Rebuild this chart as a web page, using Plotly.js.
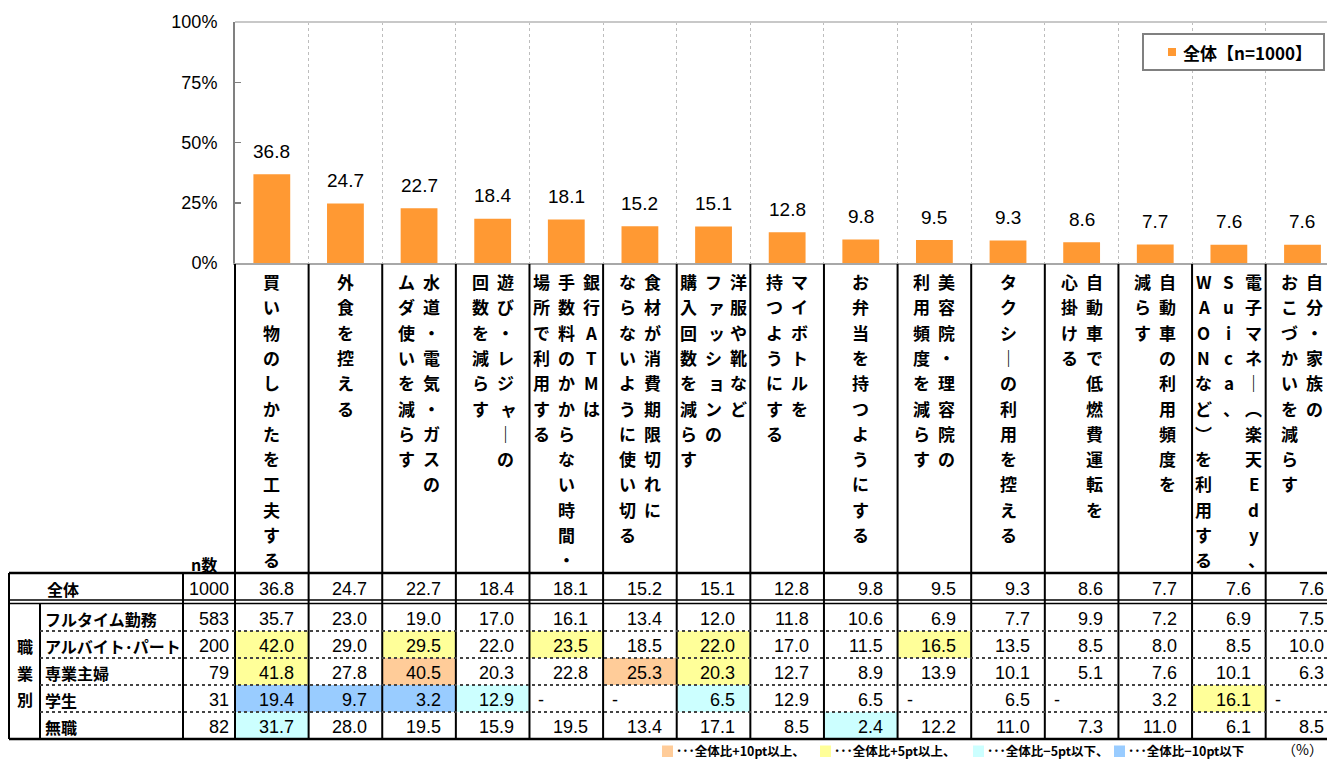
<!DOCTYPE html>
<html><head><meta charset="utf-8">
<script src="https://cdn.plot.ly/plotly-3.0.1.min.js"></script>
<style>body{margin:0;background:#fff}#chart{width:1327px;height:760px}</style>
</head><body><div id="chart"></div>
<script>
// ---------- data ----------
const categoryLines = [
  ["買い物のしかたを工夫する"],
  ["外食を控える"],
  ["水道・電気・ガスの","ムダ使いを減らす"],
  ["遊び・レジャーの","回数を減らす"],
  ["銀行ATMは","手数料のかからない時間・","場所で利用する"],
  ["食材が消費期限切れに","ならないように使い切る"],
  ["洋服や靴など","ファッションの","購入回数を減らす"],
  ["マイボトルを","持つようにする"],
  ["お弁当を持つようにする"],
  ["美容院・理容院の","利用頻度を減らす"],
  ["タクシーの利用を控える"],
  ["自動車で低燃費運転を","心掛ける"],
  ["自動車の利用頻度を","減らす"],
  ["電子マネー（楽天Edy、","Suica、","WAONなど）を利用する"],
  ["自分・家族の","おこづかいを減らす"]
];
const totalValues = [36.8,24.7,22.7,18.4,18.1,15.2,15.1,12.8,9.8,9.5,9.3,8.6,7.7,7.6,7.6];
const totalLabel = "全体";
const totalN = 1000;
const seriesName = "全体【n=1000】";
const groupTitle = "職業別";
const groupNames = ["フルタイム勤務","アルバイト・パート","専業主婦","学生","無職"];
const groupN = [583,200,79,31,82];
const fulltimeValues   = [35.7,23.0,19.0,17.0,16.1,13.4,12.0,11.8,10.6,6.9,7.7,9.9,7.2,6.9,7.5];
const parttimeValues   = [42.0,29.0,29.5,22.0,23.5,18.5,22.0,17.0,11.5,16.5,13.5,8.5,8.0,8.5,10.0];
const housewifeValues  = [41.8,27.8,40.5,20.3,22.8,25.3,20.3,12.7,8.9,13.9,10.1,5.1,7.6,10.1,6.3];
const studentValues    = [19.4,9.7,3.2,12.9,null,null,6.5,12.9,6.5,null,6.5,null,3.2,16.1,null];
const unemployedValues = [31.7,28.0,19.5,15.9,19.5,13.4,17.1,8.5,2.4,12.2,11.0,7.3,11.0,6.1,8.5];
const groupValues = [fulltimeValues,parttimeValues,housewifeValues,studentValues,unemployedValues];
const yTickVals = [0,25,50,75,100];
const yTickText = ["0%","25%","50%","75%","100%"];
const nLabel = "n数";
const unitLabel = "（%）";
const keyLabels = ["･･･全体比+10pt以上、","･･･全体比+5pt以上、","･･･全体比−5pt以下、","･･･全体比−10pt以下"];

// ---------- layout helpers ----------
const W=1327,H=760,L=235,T=22,B=263;
const PW=W-L, PH=B-T, COLW=73.62;
const px = x => (x-L)/PW;
const py = y => (B-y)/PH;
const JP = '"Noto Sans CJK JP","Noto Sans",sans-serif';
const NUM = '"Liberation Sans",Arial,sans-serif';
const C_HI10='#FFCC99', C_HI5='#FFFF99', C_LO5='#CCFFFF', C_LO10='#99CCFF';
const categories = categoryLines.map(l => l.join(""));

function cellColor(v,t){
  if(v==null) return null;
  const d = Math.round((v-t)*10)/10;
  if(d>=10) return C_HI10;
  if(d>=5) return C_HI5;
  if(d<=-10) return C_LO10;
  if(d<=-5) return C_LO5;
  return null;
}

const shapes=[], ann=[];
const rowBounds=[603,631,658,685,712,739];

// cell fills
groupValues.forEach((vals,r)=>{
  vals.forEach((v,i)=>{
    const c=cellColor(v,totalValues[i]);
    if(c) shapes.push({type:'rect',xref:'x',yref:'paper',x0:i-0.5,x1:i+0.5,y0:py(rowBounds[r]),y1:py(rowBounds[r+1]),fillcolor:c,line:{width:0},layer:'below'});
  });
});

// top frame line
shapes.push({type:'line',xref:'paper',yref:'paper',x0:0,x1:1,y0:1,y1:1,line:{color:'#C8C8C8',width:2}});
// column borders
for(let i=0;i<categories.length;i++){
  shapes.push({type:'line',xref:'x',yref:'paper',x0:i+0.5,x1:i+0.5,y0:py(264),y1:py(739),line:{color:'#000',width:2}});
}
shapes.push({type:'line',xref:'paper',yref:'paper',x0:0,x1:0,y0:py(264),y1:py(739),line:{color:'#000',width:2}});
shapes.push({type:'line',xref:'paper',yref:'paper',x0:px(9),x1:px(9),y0:py(573),y1:py(739),line:{color:'#000',width:2}});
shapes.push({type:'line',xref:'paper',yref:'paper',x0:px(40),x1:px(40),y0:py(603),y1:py(739),line:{color:'#000',width:2}});
shapes.push({type:'line',xref:'paper',yref:'paper',x0:px(183),x1:px(183),y0:py(573),y1:py(739),line:{color:'#000',width:2}});
// horizontal table lines
shapes.push({type:'line',xref:'paper',yref:'paper',x0:px(9),x1:1.02,y0:py(573),y1:py(573),line:{color:'#000',width:2.5}});
shapes.push({type:'line',xref:'paper',yref:'paper',x0:px(9),x1:1.02,y0:py(600),y1:py(600),line:{color:'#000',width:1.5}});
shapes.push({type:'line',xref:'paper',yref:'paper',x0:px(9),x1:1.02,y0:py(603.5),y1:py(603.5),line:{color:'#000',width:1.5}});
shapes.push({type:'line',xref:'paper',yref:'paper',x0:px(9),x1:1.02,y0:py(739),y1:py(739),line:{color:'#000',width:2.5}});
[631,658,685,712].forEach(y=>{
  shapes.push({type:'line',xref:'paper',yref:'paper',x0:px(40),x1:1.02,y0:py(y),y1:py(y),line:{color:'#444',width:2,dash:'dot'}});
});

// bar value labels
totalValues.forEach((v,i)=>{
  ann.push({xref:'x',yref:'y',x:i,y:v,yshift:23,text:v.toFixed(1),showarrow:false,xanchor:'center',yanchor:'middle',font:{family:NUM,size:19,color:'#000'}});
});

// vertical category labels
const VMAP={'ー':'｜','（':'︵','）':'︶'};
const SMALL='ぁぃぅぇぉっゃゅょァィゥェォッャュョ、';
categoryLines.forEach((lines,i)=>{
  const n=lines.length;
  lines.forEach((line,j)=>{
    const off=((n-1)/2-j)*25;
    Array.from(line).forEach((ch,k)=>{
      const sm=SMALL.includes(ch);
      ann.push({xref:'x',yref:'paper',x:i,y:py(281.5+k*25.3),xshift:off+(sm?3:0),
        text:VMAP[ch]||ch,showarrow:false,xanchor:'center',yanchor:'middle',
        font:{family:JP,size:17,weight:700,color:'#000'}});
    });
  });
});

// table text
ann.push({xref:'paper',yref:'paper',x:px(219),y:py(564),text:nLabel,showarrow:false,xanchor:'right',yanchor:'middle',font:{family:JP,size:16,weight:700,color:'#000'}});
ann.push({xref:'paper',yref:'paper',x:px(45),y:py(589),text:totalLabel,showarrow:false,xanchor:'left',yanchor:'middle',font:{family:JP,size:16,weight:700,color:'#000'}});
ann.push({xref:'paper',yref:'paper',x:px(231),y:py(589),text:String(totalN),showarrow:false,xanchor:'right',yanchor:'middle',font:{family:NUM,size:18,color:'#000'}});
totalValues.forEach((v,i)=>{
  ann.push({xref:'x',yref:'paper',x:i,xshift:COLW/2-13,y:py(589),text:v.toFixed(1),showarrow:false,xanchor:'right',yanchor:'middle',font:{family:NUM,size:18,color:'#000'}});
});
Array.from(groupTitle).forEach((ch,k)=>{
  ann.push({xref:'paper',yref:'paper',x:px(25),y:py(646+k*26.5),text:ch,showarrow:false,xanchor:'center',yanchor:'middle',font:{family:JP,size:16,weight:700,color:'#000'}});
});
groupNames.forEach((g,r)=>{
  const yc=(rowBounds[r]+rowBounds[r+1])/2+1.5;
  ann.push({xref:'paper',yref:'paper',x:px(43),y:py(yc),text:g.replace('・','･'),showarrow:false,xanchor:'left',yanchor:'middle',font:{family:JP,size:16,weight:700,color:'#000'}});
  ann.push({xref:'paper',yref:'paper',x:px(231),y:py(yc),text:String(groupN[r]),showarrow:false,xanchor:'right',yanchor:'middle',font:{family:NUM,size:18,color:'#000'}});
  groupValues[r].forEach((v,i)=>{
    if(v==null){
      ann.push({xref:'x',yref:'paper',x:i,xshift:-COLW/2+7,y:py(yc),text:'-',showarrow:false,xanchor:'left',yanchor:'middle',font:{family:NUM,size:18,color:'#000'}});
    } else {
      ann.push({xref:'x',yref:'paper',x:i,xshift:COLW/2-13,y:py(yc),text:v.toFixed(1),showarrow:false,xanchor:'right',yanchor:'middle',font:{family:NUM,size:18,color:'#000'}});
    }
  });
});

// legend box (series key)
shapes.push({type:'rect',xref:'paper',yref:'paper',x0:px(1143),x1:px(1324),y0:py(34),y1:py(70),fillcolor:'#fff',line:{color:'#808080',width:2},layer:'above'});
shapes.push({type:'rect',xref:'paper',yref:'paper',x0:px(1168),x1:px(1176),y0:py(48),y1:py(56),fillcolor:'#FF9933',line:{width:0},layer:'above'});
ann.push({xref:'paper',yref:'paper',x:px(1181),y:py(52),text:seriesName,showarrow:false,xanchor:'left',yanchor:'middle',font:{family:JP,size:17,weight:700,color:'#000'}});

// bottom key
const keyColors=[C_HI10,C_HI5,C_LO5,C_LO10];
const keyX=[662,820,973,1114];
keyLabels.forEach((t,k)=>{
  shapes.push({type:'rect',xref:'paper',yref:'paper',x0:px(keyX[k]),x1:px(keyX[k]+11),y0:py(745.5),y1:py(757),fillcolor:keyColors[k],line:{width:0}});
  ann.push({xref:'paper',yref:'paper',x:px(keyX[k]+13),y:py(750),text:t,showarrow:false,xanchor:'left',yanchor:'middle',borderpad:0,font:{family:JP,size:12.5,weight:700,color:'#000'}});
});
ann.push({xref:'paper',yref:'paper',x:px(1324),y:py(749),text:unitLabel,showarrow:false,xanchor:'right',yanchor:'middle',borderpad:0,font:{family:JP,size:14,color:'#000'}});

const trace={type:'bar',x:categories,y:totalValues,name:seriesName,marker:{color:'#FF9933',line:{width:0}},width:0.5,hoverinfo:'skip',showlegend:false};

const layout={
  width:W,height:H,
  margin:{l:L,r:0,t:T,b:H-B,pad:0},
  paper_bgcolor:'#fff',plot_bgcolor:'#fff',
  showlegend:false,
  xaxis:{type:'category',range:[-0.5,-0.5+PW/COLW],showticklabels:false,ticks:'',tickson:'boundaries',
    showgrid:true,gridcolor:'#BDBDBD',griddash:'dot',gridwidth:1,showline:true,linecolor:'#A8A8A8',linewidth:2,zeroline:false,fixedrange:true},
  yaxis:{range:[0,100],tickvals:yTickVals,ticktext:yTickText,ticks:'inside',ticklen:6,tickcolor:'#808080',tickwidth:1.5,
    showgrid:false,zeroline:false,showline:true,linecolor:'#808080',linewidth:2,ticklabelstandoff:12,
    tickfont:{family:NUM,size:18,color:'#000'},fixedrange:true},
  shapes:shapes,annotations:ann,bargap:0.5
};
Plotly.newPlot('chart',[trace],layout,{displayModeBar:false,staticPlot:true});
</script>
</body></html>
